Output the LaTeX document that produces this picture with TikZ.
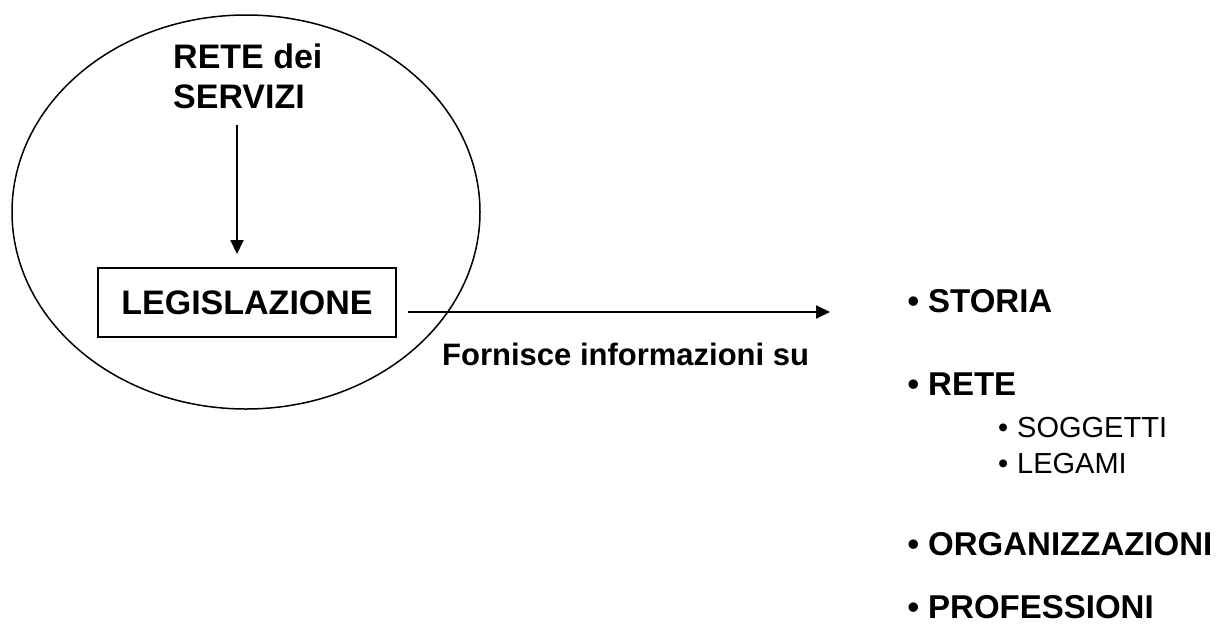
\documentclass[tikz,border=0pt]{standalone}
\usepackage{fontspec}
\setmainfont{Liberation Sans}
\usetikzlibrary{arrows.meta}
\tikzset{
	big/.style={font=\fontsize{34}{40}\selectfont\bfseries, inner sep=0pt},
	item/.style={font=\fontsize{33}{38}\selectfont\bfseries, inner sep=0pt, anchor=base west},
	subitem/.style={font=\fontsize{29}{32}\selectfont, inner sep=0pt, anchor=base west},
	arr/.style={line width=2pt, -{Triangle[length=14pt,width=13pt]}}
}
\newcommand{\blt}{\llap{\textbullet\hspace{9pt}}}
\begin{document}
\begin{tikzpicture}[x=1pt,y=-1pt]
	\useasboundingbox (0,0) rectangle (1226,640);
	\coordinate (C) at (246,212);
	\coordinate (top) at (237,125);
	\coordinate (tip) at (830,312);
	
	\draw[line width=1.5pt] (C) ellipse[x radius=234, y radius=197];
	\node[big, align=left, anchor=north west] (rete) at (173,44) {RETE dei\\SERVIZI};
	\node[big, draw, line width=2pt, minimum width=298pt, minimum height=69pt] (leg) at (247,302.5) {LEGISLAZIONE};
	\draw[arr] (top) -- ([xshift=-10pt,yshift=13pt]leg.north);
	\draw[arr] ([xshift=11pt,yshift=-9.5pt]leg.east) -- (tip);
	\node[item, font=\fontsize{31}{36}\selectfont\bfseries] (forn) at (442,365) {Fornisce informazioni su};
	
	% elenco
	\node[item] (storia) at (928,312) {\blt STORIA};
	\node[item] (retel) at (928,395) {\blt RETE};
	\node[subitem] (sogg) at (1017,437) {\blt SOGGETTI};
	\node[subitem] (lega) at (1017,473) {\blt LEGAMI};
	\node[item] (org) at (928,555) {\blt ORGANIZZAZIONI};
	\node[item] (prof) at (928,618) {\blt PROFESSIONI};
\end{tikzpicture}
\end{document}
